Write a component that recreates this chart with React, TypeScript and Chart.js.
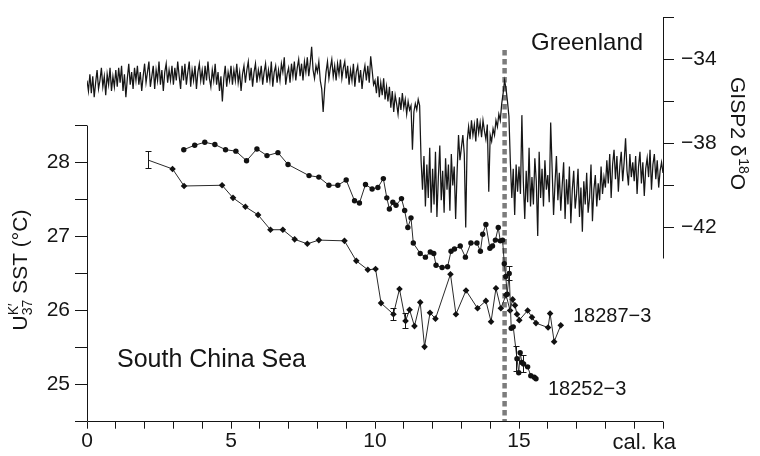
import React, { useEffect, useRef } from 'react';
import { Chart, registerables } from 'chart.js';

Chart.register(...registerables);

const FONT = '"Liberation Sans", Arial, Helvetica, sans-serif';
const INK = '#151515';

// GISP2 δ18O (‰ VSMOW), one value every 0.05 ka from 0 to 20 cal. ka
const gispStartKa = 0;
const gispStepKa = 0.05;
const gispD18O = [
  -35.0, -35.5, -34.7, -35.6, -34.8, -35.8, -35.1, -34.5, -35.4, -35.0, -34.4, -35.3, -34.8, -35.7, -34.7, -35.2, -34.4, -35.5, -34.8, -35.3,
  -34.5, -35.3, -34.4, -35.1, -34.3, -35.5, -34.7, -35.8, -34.9, -34.2, -35.2, -34.6, -35.4, -34.4, -35.0, -34.3, -35.2, -34.6, -35.5, -34.8,
  -34.2, -35.1, -34.6, -34.1, -35.3, -34.8, -34.3, -35.4, -34.5, -35.0, -34.1, -35.2, -34.5, -35.5, -34.6, -34.2, -35.1, -34.5, -35.0, -34.3,
  -35.2, -34.4, -35.0, -34.1, -34.8, -35.4, -34.3, -35.0, -34.2, -35.2, -34.6, -34.1, -35.3, -34.5, -35.0, -34.3, -35.4, -34.6, -34.2, -35.0,
  -34.5, -35.2, -34.3, -35.0, -34.1, -34.9, -35.3, -34.5, -35.0, -34.2, -35.2, -34.6, -35.5, -34.8, -36.0, -34.9, -34.3, -35.3, -34.6, -35.0,
  -34.3, -35.2, -34.5, -35.0, -34.2, -35.1, -34.6, -35.5, -34.7, -34.3, -35.1, -34.5, -34.1, -35.0, -34.4, -35.3, -34.6, -34.2, -35.1, -34.5,
  -34.9, -34.3, -35.2, -34.6, -34.2, -35.1, -34.5, -35.0, -34.1, -35.3, -34.6, -34.3, -35.1, -34.5, -35.0, -34.2, -34.6, -33.9, -35.2, -34.7,
  -34.4, -35.1, -34.2, -34.8, -34.1, -35.0, -34.4, -34.0, -34.8, -34.2, -35.0, -34.1, -34.6, -33.9, -34.8, -34.2, -33.4, -34.5, -34.9, -34.3,
  -34.6, -34.1, -35.0, -35.4, -36.5, -35.4, -34.6, -34.1, -34.9, -34.4, -34.0, -34.8, -34.3, -35.0, -34.2, -34.7, -34.0, -34.9, -34.4, -34.1,
  -34.9, -34.3, -35.2, -34.5, -35.0, -34.2, -35.3, -34.6, -34.3, -35.1, -34.5, -35.4, -34.7, -34.3, -35.0, -34.3, -35.1, -33.85, -34.5, -35.2,
  -35.0, -35.6, -34.8, -35.8, -35.1, -35.7, -34.9, -35.9, -35.3, -36.0, -35.3, -36.3, -35.5, -36.5, -35.7, -36.1, -36.6, -35.8, -36.4, -35.6,
  -36.3, -35.9, -36.6, -36.0, -36.4, -36.2, -38.3, -36.5, -36.1, -36.4, -35.9, -36.2, -38.8, -40.2, -38.6, -41.0, -39.0, -40.6, -38.2, -41.3,
  -39.2, -40.9, -38.4, -41.5, -39.6, -38.1, -40.7, -39.3, -41.3, -38.7, -40.2, -39.0, -41.2, -38.5, -40.0, -39.1, -41.6, -39.4, -37.6, -38.8,
  -38.2, -37.6, -38.5, -42.0, -37.9, -37.2, -37.8, -36.9, -37.6, -37.1, -37.9, -36.8, -37.5, -37.0, -37.7, -36.9, -37.4, -37.8, -37.1, -40.3,
  -37.6, -37.9, -37.3, -37.6, -36.9, -37.2, -36.6, -36.9, -36.1, -35.6, -35.0, -35.4, -36.0, -36.7, -38.9, -40.6, -39.2, -41.4, -39.0, -40.3,
  -39.1, -40.4, -36.65, -39.8, -41.6, -39.3, -40.8, -38.2, -41.0, -39.6, -40.9, -38.7, -39.8, -42.4, -38.4, -40.6, -39.2, -41.0, -38.8, -40.2,
  -39.5, -40.8, -37.0, -39.2, -41.4, -39.9, -38.6, -40.7, -39.4, -41.2, -40.0, -38.9, -41.6, -39.7, -40.9, -39.1, -41.8, -40.2, -39.3, -41.1,
  -40.4, -39.2, -41.5, -40.1, -42.2, -39.8, -40.9, -39.4, -41.3, -40.6, -39.0, -41.7, -40.2, -39.5, -41.0, -39.9, -40.7, -39.1, -40.4, -39.6,
  -40.1, -38.8, -39.9, -38.5, -40.6, -39.0, -38.3, -39.7, -38.6, -40.3, -39.1, -38.4, -39.8, -38.9, -37.75, -39.3, -40.0, -38.5, -39.6, -38.9,
  -39.8, -38.6, -40.4, -39.1, -38.4, -39.9, -38.9, -40.5, -39.2, -38.7, -39.6, -38.3, -40.2, -39.0, -38.5, -39.7, -38.8, -40.1, -39.3, -38.9,
  -39.4,
];

// Core 18252-3: U^K'37 SST (°C) against calendar age (ka)
const core18252Age = [
  3.36, 3.74, 4.09, 4.44, 4.81, 5.17, 5.54, 5.90, 6.25, 6.63, 6.98, 7.71, 8.05, 8.40, 8.71, 9.00, 9.29,
  9.46, 9.67, 9.90, 10.10, 10.29, 10.41, 10.50, 10.62, 10.73, 10.92, 11.03, 11.14, 11.25, 11.33, 11.57,
  11.75, 11.92, 12.04, 12.12, 12.33, 12.52, 12.64, 12.76, 12.96, 13.14, 13.33, 13.54, 13.66, 13.74, 13.85,
  13.99, 14.08, 14.18, 14.28, 14.35, 14.43, 14.49, 14.54, 14.59, 14.66, 14.73, 14.80, 14.93, 14.99, 15.04,
  15.10, 15.16, 15.30, 15.41, 15.53, 15.59,
];
const core18252Sst = [
  28.17, 28.23, 28.27, 28.24, 28.17, 28.15, 28.02, 28.18, 28.09, 28.13, 27.97, 27.82, 27.80, 27.69, 27.69, 27.76, 27.48,
  27.45, 27.70, 27.64, 27.66, 27.78, 27.52, 27.37, 27.46, 27.42, 27.51, 27.35, 27.12, 27.25, 26.91, 26.77,
  26.72, 26.79, 26.77, 26.61, 26.58, 26.59, 26.80, 26.83, 26.87, 26.72, 26.91, 26.91, 26.80, 27.03, 27.16,
  26.84, 26.87, 26.95, 27.12, 26.94, 26.95, 26.63, 26.46, 26.22, 26.50, 25.76, 25.78, 25.35, 25.16, 25.43,
  25.30, 25.28, 25.24, 25.12, 25.10, 25.08,
];

// Core 18287-3
const core18287Age = [
  2.12, 2.97, 3.37, 4.69, 5.07, 5.50, 5.94, 6.37, 6.80, 7.21, 7.65, 8.05, 8.94, 9.35, 9.75, 10.02,
  10.21, 10.64, 10.85, 11.06, 11.20, 11.37, 11.57, 11.72, 11.91, 12.10, 12.62, 12.81, 13.16, 13.56,
  13.85, 14.03, 14.20, 14.37, 14.55, 14.69, 14.78, 14.86, 14.93, 15.01, 15.30, 15.45, 15.59, 16.01,
  16.08, 16.22, 16.45,
];
const core18287Sst = [
  28.03, 27.91, 27.68, 27.69, 27.52, 27.40, 27.29, 27.09, 27.09, 26.96, 26.90, 26.95, 26.94, 26.67, 26.55, 26.56,
  26.10, 25.95, 26.29, 25.86, 26.01, 25.79, 26.11, 25.51, 25.97, 25.89, 26.49, 25.95, 26.27, 26.03,
  26.13, 25.85, 26.30, 26.03, 26.21, 26.00, 26.15, 26.07, 25.95, 25.87, 26.00, 25.91, 25.83, 25.77,
  25.96, 25.58, 25.80,
];

// Analytical error bars: [age ka, SST °C, half-range °C]
const errors18252 = [
  [14.66, 26.50, 0.1],
  [14.93, 25.35, 0.17],
  [15.16, 25.28, 0.11],
];
const errors18287 = [
  [2.12, 28.03, 0.11],
  [10.64, 25.95, 0.08],
  [11.06, 25.86, 0.1],
];

// Onset of the Bølling warming (dashed marker), ka
const bollingAgeKa = 14.5;
const bollingTopD18O = -33.55;

// Axis ticks
const ageTicks = [0, 1, 2, 3, 4, 5, 6, 7, 8, 9, 10, 11, 12, 13, 14, 15, 16, 17, 18, 19, 20];
const ageLabels = [0, 5, 10, 15];
const sstTicks = [24.5, 25, 25.5, 26, 26.5, 27, 27.5, 28, 28.5];
const sstLabels = [25, 26, 27, 28];
const gispTicks = [-42, -40, -38, -36, -34, -32];
const gispLabels = [-42, -38, -34];

const SST_MIN = 24.5;
const SST_TOP = 28.5;
const SST_MAX = 29.9533;
const GISP_MIN = -51.25;
const GISP_MAX = -32;
const GISP_AXIS_END = -43.5;

const gispPoints = gispD18O.map((v, i) => ({ x: gispStartKa + i * gispStepKa, y: v }));
const points18252 = core18252Age.map((a, i) => ({ x: a, y: core18252Sst[i] }));
const points18287 = core18287Age.map((a, i) => ({ x: a, y: core18287Sst[i] }));

type Piece = { text: string; size: number; rise: number };

function drawRotatedTitle(
  ctx: CanvasRenderingContext2D,
  groups: Piece[][],
  ax: number,
  ay: number,
  angle: number,
  centered: boolean
) {
  const widthOf = (g: Piece[]) =>
    Math.max(
      ...g.map((p) => {
        ctx.font = `${p.size}px ${FONT}`;
        return ctx.measureText(p.text).width;
      })
    );
  const total = groups.reduce((s, g) => s + widthOf(g), 0);
  ctx.save();
  ctx.translate(ax, ay);
  ctx.rotate(angle);
  ctx.textAlign = 'left';
  ctx.textBaseline = 'alphabetic';
  ctx.fillStyle = INK;
  let cx = centered ? -total / 2 : 0;
  for (const g of groups) {
    const w = widthOf(g);
    for (const p of g) {
      ctx.font = `${p.size}px ${FONT}`;
      ctx.fillText(p.text, cx, -p.rise);
    }
    cx += w;
  }
  ctx.restore();
}

const align = (v: number) => Math.round(v - 0.5) + 0.5;

const decorations = {
  id: 'decorations',
  afterDraw(chart: any) {
    const { ctx, scales } = chart;
    const x = scales.x;
    const y = scales.y;
    const y2 = scales.y2;
    ctx.save();
    ctx.strokeStyle = INK;
    ctx.lineWidth = 1;

    // axis lines
    const left = align(x.getPixelForValue(0));
    const right = align(x.getPixelForValue(20));
    const bottom = align(y.getPixelForValue(SST_MIN));
    ctx.beginPath();
    ctx.moveTo(left, align(y.getPixelForValue(SST_TOP)));
    ctx.lineTo(left, bottom);
    ctx.moveTo(left, bottom);
    ctx.lineTo(right, bottom);
    ctx.moveTo(right, align(y2.getPixelForValue(GISP_MAX)));
    ctx.lineTo(right, align(y2.getPixelForValue(GISP_AXIS_END)));
    ctx.stroke();

    // error bars
    const bars = [...errors18252, ...errors18287];
    ctx.beginPath();
    for (const [age, t, e] of bars) {
      const px = align(x.getPixelForValue(age));
      const top = y.getPixelForValue(t + e);
      const bot = y.getPixelForValue(t - e);
      ctx.moveTo(px, top);
      ctx.lineTo(px, bot);
      ctx.moveTo(px - 3, align(top));
      ctx.lineTo(px + 3, align(top));
      ctx.moveTo(px - 3, align(bot));
      ctx.lineTo(px + 3, align(bot));
    }
    ctx.stroke();

    // annotations
    ctx.fillStyle = INK;
    ctx.textBaseline = 'alphabetic';
    ctx.textAlign = 'left';
    ctx.font = `24px ${FONT}`;
    ctx.fillText('Greenland', 531, 50);
    ctx.font = `25px ${FONT}`;
    ctx.fillText('South China Sea', 117, 367);
    ctx.font = `20px ${FONT}`;
    ctx.fillText('18287\u22123', 573, 322);
    ctx.fillText('18252\u22123', 548, 395);
    ctx.font = `22px ${FONT}`;
    ctx.textAlign = 'right';
    ctx.fillText('cal. ka', 676, 449);
    ctx.restore();

    // axis titles
    drawRotatedTitle(
      ctx,
      [
        [{ text: 'U', size: 21, rise: 0 }],
        [
          { text: 'K\u2032', size: 14, rise: 9 },
          { text: '37', size: 14, rise: -5 },
        ],
        [{ text: ' SST (\u00B0C)', size: 21, rise: 0 }],
      ],
      27,
      270,
      -Math.PI / 2,
      true
    );
    drawRotatedTitle(
      ctx,
      [
        [{ text: 'GISP2 \u03B4', size: 21, rise: 0 }],
        [{ text: '\u200A', size: 21, rise: 0 }],
        [{ text: '18', size: 14, rise: 8 }],
        [{ text: 'O', size: 21, rise: 0 }],
      ],
      731,
      77,
      Math.PI / 2,
      false
    );
  },
};

const tickFont = { family: FONT, size: 21 };

export default function App() {
  const ref = useRef<HTMLCanvasElement>(null);

  useEffect(() => {
    const canvas = ref.current;
    if (!canvas) return;
    const chart = new Chart(canvas, {
      type: 'line',
      data: {
        datasets: [
          {
            label: 'Bølling onset',
            data: [
              { x: bollingAgeKa, y: bollingTopD18O },
              { x: bollingAgeKa, y: GISP_MIN },
            ],
            yAxisID: 'y2',
            borderColor: '#7c7c7c',
            borderWidth: 4.5,
            borderDash: [5.5, 3.5],
            borderCapStyle: 'butt',
            pointRadius: 0,
            order: 10,
          },
          {
            label: 'GISP2',
            data: gispPoints,
            yAxisID: 'y2',
            borderColor: '#161616',
            borderWidth: 1.25,
            pointRadius: 0,
            tension: 0,
            order: 5,
          },
          {
            label: '18252-3',
            data: points18252,
            yAxisID: 'y',
            borderColor: '#2a2a2a',
            borderWidth: 1,
            pointStyle: 'circle',
            pointRadius: 2.7,
            pointBackgroundColor: '#111',
            pointBorderWidth: 0,
            tension: 0,
            order: 1,
          },
          {
            label: '18287-3',
            data: points18287,
            yAxisID: 'y',
            borderColor: '#2a2a2a',
            borderWidth: 1,
            pointStyle: 'rectRot',
            pointRadius: (c: any) => (c.dataIndex === 0 ? 0 : 3.3),
            pointBackgroundColor: '#111',
            pointBorderWidth: 0,
            tension: 0,
            order: 1,
          },
        ],
      },
      options: {
        responsive: false,
        devicePixelRatio: 1,
        animation: false,
        events: [],
        parsing: false,
        layout: { padding: { top: 12.7, left: 0, right: 0, bottom: 0 } },
        plugins: {
          legend: { display: false },
          tooltip: { enabled: false },
        },
        scales: {
          x: {
            type: 'linear',
            position: 'bottom',
            min: 0,
            max: 20,
            afterBuildTicks: (s: any) => {
              s.ticks = ageTicks.map((value) => ({ value }));
            },
            afterFit: (s: any) => {
              s.height = 34.3;
            },
            ticks: {
              autoSkip: false,
              maxRotation: 0,
              minRotation: 0,
              padding: 0,
              color: INK,
              font: tickFont,
              callback: (v: any) => (ageLabels.includes(Number(v)) ? String(v) : ''),
            },
            grid: { drawOnChartArea: false, drawTicks: true, tickLength: 7, color: INK, lineWidth: 1 },
            border: { display: false },
          },
          y: {
            type: 'linear',
            position: 'left',
            min: SST_MIN,
            max: SST_MAX,
            afterBuildTicks: (s: any) => {
              s.ticks = sstTicks.map((value) => ({ value }));
            },
            afterFit: (s: any) => {
              s.width = 87;
            },
            ticks: {
              autoSkip: false,
              padding: 5,
              color: INK,
              font: { family: FONT, size: 21, lineHeight: 1 },
              callback: (v: any) => (sstLabels.includes(Number(v)) ? String(v) : ''),
            },
            grid: { drawOnChartArea: false, drawTicks: true, tickLength: 12, color: INK, lineWidth: 1 },
            border: { display: false },
          },
          y2: {
            type: 'linear',
            position: 'right',
            min: GISP_MIN,
            max: GISP_MAX,
            afterBuildTicks: (s: any) => {
              s.ticks = gispTicks.map((value) => ({ value }));
            },
            afterFit: (s: any) => {
              s.width = 97;
            },
            ticks: {
              autoSkip: false,
              padding: 7,
              color: INK,
              font: { family: FONT, size: 21, lineHeight: 1 },
              callback: (v: any) =>
                gispLabels.includes(Number(v)) ? '\u2212' + String(Math.abs(Number(v))) : '',
            },
            grid: { drawOnChartArea: false, drawTicks: true, tickLength: 11, color: INK, lineWidth: 1 },
            border: { display: false },
          },
        },
      },
      plugins: [decorations],
    } as any);
    return () => chart.destroy();
  }, []);

  return (
    <div style={{ position: 'absolute', left: 0, top: 0, width: 760, height: 456, background: '#fff' }}>
      <canvas ref={ref} width={760} height={456} style={{ display: 'block', width: 760, height: 456 }} />
    </div>
  );
}
